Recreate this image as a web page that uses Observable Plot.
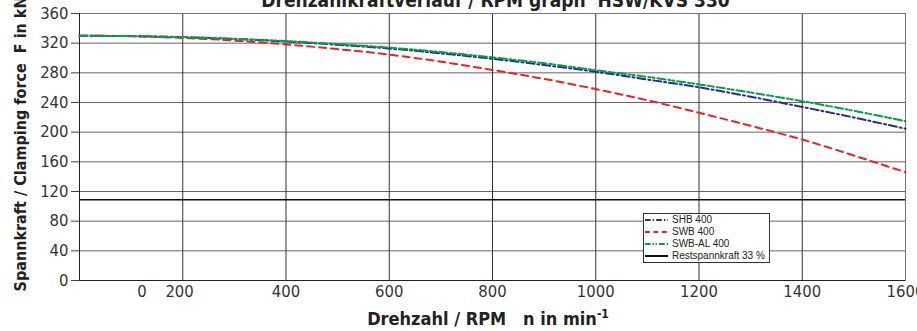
<!DOCTYPE html>
<html>
<head>
<meta charset="utf-8">
<script src="https://cdn.jsdelivr.net/npm/d3@7"></script>
<script src="https://cdn.jsdelivr.net/npm/@observablehq/plot@0.6"></script>
<style>
  html, body { margin: 0; padding: 0; background: #fff; }
  #wrap { position: relative; width: 917px; height: 331px; overflow: hidden; }
  #legend { position: absolute; left: 643px; top: 213px; width: 127px; height: 50px;
    border: 1px solid #333; background: #fff; box-sizing: border-box;
    font-family: "Liberation Sans", Arial, sans-serif; font-size: 10px; color: #222; padding-top: 0px; white-space: nowrap; }
  #legend .row { height: 12px; line-height: 12px; display: flex; align-items: center; }
  #legend svg { margin-left: 1px; margin-right: 4px; flex: none; }
</style>
</head>
<body>
<div id="wrap"><div id="chart"></div><div id="legend"></div></div>
<script>
const rpm   = [0, 100, 200, 300, 400, 500, 600, 700, 800, 900, 1000, 1100, 1200, 1300, 1400, 1500, 1600];
const shb   = [330, 329.5, 328, 325.6, 322.2, 317.8, 312.8, 306.2, 299, 290.5, 281.5, 271, 260.5, 247.8, 234, 219.8, 204.6];
const swb   = [330, 329.3, 327.1, 323.5, 318.3, 312, 304.6, 295, 283.8, 271.8, 258.1, 243, 226.2, 208.5, 190, 168.5, 146];
const swbAl = [330, 329.5, 328.2, 326, 322.8, 318.8, 314, 308, 300.8, 293, 283.5, 274.5, 264.4, 253.5, 241.8, 228.8, 214.8];
const restForce = 108.9;
const seriesNames = ["SHB 400", "SWB 400", "SWB-AL 400", "Restspannkraft 33 %"];
const seriesColors = ["#2b2b8f", "#e8232b", "#00a046", "#111111"];
const seriesDash = ["8,3,2,3", "7,5", "8,3,2,2,2,3", null];
const xTicks = [0, 200, 400, 600, 800, 1000, 1200, 1400, 1600];
const yTicks = [0, 40, 80, 120, 160, 200, 240, 280, 320, 360];

const seriesValues = [shb, swb, swbAl];
const rows = seriesValues.map((vals, s) => rpm.map((n, i) => ({n, F: vals[i], s})));

const font = "'Liberation Sans Narrow', 'DejaVu Sans Condensed', sans-serif";

const plot = Plot.plot({
  width: 917, height: 331,
  marginLeft: 79, marginRight: 12, marginTop: 13, marginBottom: 51,
  x: {domain: [0, 1600]},
  y: {domain: [0, 360]},
  style: {fontFamily: font, fontSize: "16.5px", color: "#333", background: "#fff"},
  marks: [
    Plot.gridY(yTicks, {stroke: "#666", strokeOpacity: 1}),
    Plot.gridX(xTicks, {stroke: "#333", strokeOpacity: 1}),
    Plot.frame({stroke: "#777"}),
    Plot.ruleX([0], {stroke: "#222"}),
    Plot.ruleY([0], {stroke: "#222"}),
    Plot.axisY(yTicks, {tickSize: 8, tickPadding: 3, label: null, fill: "#333", stroke: "#444"}),
    Plot.axisX(xTicks.slice(2), {tickSize: 0, tickPadding: 5, label: null, fill: "#333", tickFormat: d => String(d)}),
    Plot.axisX([200], {tickSize: 0, tickPadding: 5, label: null, fill: "#333", textAnchor: "end", dx: 11,
      tickFormat: () => "0\u00a0\u00a0\u00a0\u00a0200"}),
    Plot.ruleY([restForce], {stroke: "#111", strokeWidth: 1.6}),
    ...rows.map((r, s) => Plot.line(r, {x: "n", y: "F", stroke: seriesColors[s], strokeWidth: 2,
      strokeDasharray: seriesDash[s], curve: "monotone-x"})),
    Plot.text(["Drehzahlkraftverlauf / RPM graph  HSW/KVS 330"], {frameAnchor: "top", dy: -7, lineAnchor: "bottom",
      fontWeight: "bold", fontSize: 19, fill: "#222", dx: 3}),
    Plot.text(["Spannkraft / Clamping force  F in kN"], {frameAnchor: "left", dx: -59, dy: -3, rotate: -90,
      textAnchor: "middle", fontWeight: "bold", fontSize: 16, fill: "#222"})
  ]
});
document.getElementById("chart").appendChild(plot);

// x-axis title with superscript
const xt = d3.select(plot).append("text")
  .attr("x", 488).attr("y", 325).attr("text-anchor", "middle")
  .attr("font-family", font).attr("font-weight", "bold").attr("font-size", 18).attr("fill", "#222");
xt.append("tspan").text("Drehzahl / RPM\u00a0\u00a0\u00a0n in min");
xt.append("tspan").attr("dy", -7).attr("font-size", 12).text("-1");

// legend
const leg = d3.select("#legend");
seriesNames.forEach((name, i) => {
  const row = leg.append("div").attr("class", "row");
  const sv = row.append("svg").attr("width", 23).attr("height", 6);
  sv.append("line").attr("x1", 0).attr("x2", 23).attr("y1", 3).attr("y2", 3)
    .attr("stroke", seriesColors[i]).attr("stroke-width", 2)
    .attr("stroke-dasharray", seriesDash[i] ? seriesDash[i].split(",").map(d => d * 0.7).join(",") : null);
  row.append("span").text(name);
});
</script>
</body>
</html>
